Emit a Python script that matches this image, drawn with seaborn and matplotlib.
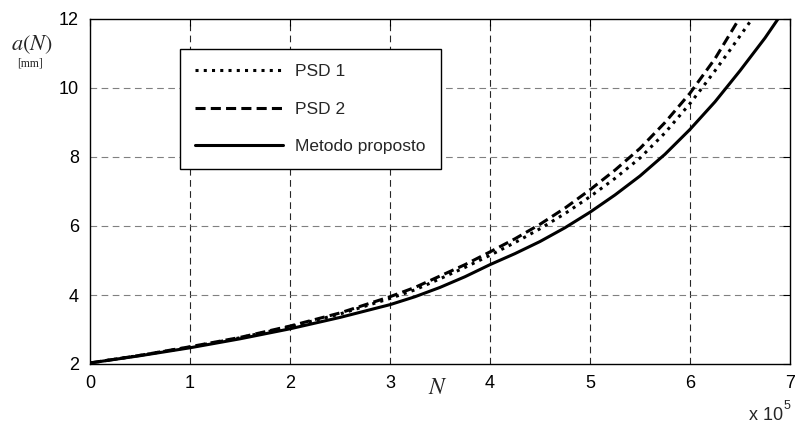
import numpy as np
import pandas as pd
import matplotlib
matplotlib.use('Agg')
import matplotlib.pyplot as plt
import seaborn as sns

# values (N in units of 1e5, a in mm)
n_psd1 = [0, 0.5, 1, 1.5, 2, 2.5, 3, 3.25, 3.5, 3.75, 4, 4.25, 4.5, 4.75, 5,
          5.25, 5.5, 5.75, 6, 6.12, 6.25, 6.4, 6.62]
a_psd1 = [2.03, 2.25, 2.49, 2.76, 3.08, 3.45, 3.9, 4.15, 4.47, 4.8, 5.15, 5.52, 5.92, 6.36, 6.85,
          7.38, 7.97, 8.7, 9.55, 10.0, 10.5, 11.1, 12.0]

n_psd2 = [0, 0.5, 1, 1.5, 2, 2.5, 3, 3.25, 3.5, 3.75, 4, 4.25, 4.5, 4.75, 5,
          5.25, 5.5, 5.75, 6, 6.25, 6.49]
a_psd2 = [2.03, 2.25, 2.5, 2.77, 3.1, 3.48, 3.95, 4.22, 4.55, 4.88, 5.25, 5.63, 6.05, 6.52, 7.05,
          7.62, 8.25, 9.0, 9.85, 10.85, 12.0]

n_prop = [0, 0.5, 1, 1.5, 2, 2.5, 3, 3.25, 3.5, 3.75, 4, 4.25, 4.5, 4.75, 5,
          5.25, 5.5, 5.75, 6, 6.25, 6.5, 6.75, 6.88]
a_prop = [2.03, 2.24, 2.47, 2.73, 3.02, 3.35, 3.72, 3.95, 4.22, 4.53, 4.88, 5.2, 5.55, 5.95, 6.4,
          6.9, 7.45, 8.08, 8.8, 9.6, 10.5, 11.45, 12.0]

labels = ['PSD 1', 'PSD 2', 'Metodo proposto']
x_ticks = [0, 1, 2, 3, 4, 5, 6, 7]
y_ticks = [2, 4, 6, 8, 10, 12]

sns.set_style('white')
plt.rcParams['font.family'] = ['Liberation Sans', 'DejaVu Sans']
plt.rcParams['mathtext.fontset'] = 'stix'

fig = plt.figure(figsize=(7.96, 4.38), dpi=100)
ax = fig.add_axes([90 / 796, 1 - 364 / 438, 700 / 796, 345 / 438])

#curves
sns.lineplot(x=n_psd1, y=a_psd1, ax=ax, color='black', lw=2.2,
             linestyle=(0, (1, 1.7)), label=labels[0])
sns.lineplot(x=n_psd2, y=a_psd2, ax=ax, color='black', lw=2.2,
             linestyle=(0, (3.3, 1.7)), label=labels[1])
sns.lineplot(x=n_prop, y=a_prop, ax=ax, color='black', lw=2.2,
             linestyle='-', label=labels[2])

ax.set_xlim(0, 7)
ax.set_ylim(2, 12)
ax.set_xticks(x_ticks)
ax.set_yticks(y_ticks)
ax.set_xlabel('')
ax.set_ylabel('')

#grid: dashed, vertical darker than horizontal
for xv in x_ticks[1:-1]:
    ax.axvline(xv, color='0.15', lw=0.8, linestyle=(0, (6, 4)), zorder=0)
for yv in y_ticks[1:-1]:
    ax.axhline(yv, color='0.5', lw=0.8, linestyle=(0, (6, 4)), zorder=0)

for s in ax.spines.values():
    s.set_color('black')
    s.set_linewidth(1.0)
ax.tick_params(direction='in', length=5, width=0.8, top=True, right=True,
               labelsize=13, colors='black', pad=8)

leg = ax.legend(loc='upper left', bbox_to_anchor=(90 / 700, 315 / 345),
                borderaxespad=0, fontsize=12.5, handlelength=5.1,
                handletextpad=0.7, labelspacing=1.3, borderpad=0.85,
                fancybox=False, framealpha=1, edgecolor='black')
leg.get_frame().set_linewidth(1.0)

#axis labels placed like the original
fig.text(438 / 796, 1 - 388 / 438, r'$N$', fontsize=17, ha='center', va='center')
fig.text(32 / 796, 1 - 45 / 438, r'$a(N)$', fontsize=16, ha='center', va='center')
fig.text(30 / 796, 1 - 63 / 438, '[mm]', family='Liberation Serif',
         fontsize=8.5, ha='center', va='center')
fig.text(783 / 796, 1 - 416 / 438, 'x 10', fontsize=13, ha='right', va='center')
fig.text(784 / 796, 1 - 406 / 438, '5', fontsize=9, ha='left', va='center')

fig.savefig('out.png', dpi=100)
